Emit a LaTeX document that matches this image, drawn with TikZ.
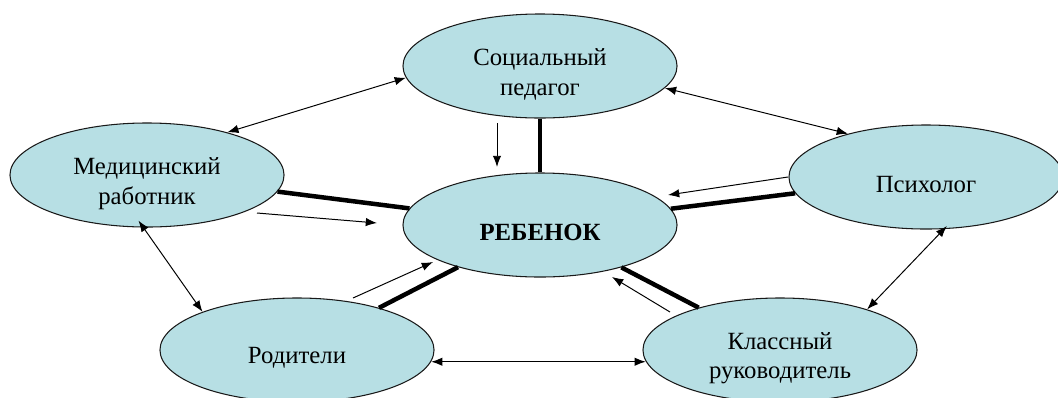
\documentclass[tikz,border=0pt]{standalone}
\usepackage{fontspec}
\setmainfont{Liberation Serif}
\usetikzlibrary{arrows.meta,shapes.geometric}
\definecolor{oval}{RGB}{183,223,228}
\tikzset{
  role/.style={ellipse, draw=black!90, line width=0.75pt, fill=oval,
    minimum width=6.85cm, minimum height=2.6cm, inner sep=0pt,
    align=center, font=\fontsize{17.6}{21.3}\selectfont,
    execute at begin node=\rule{0pt}{22pt}},
  tworole/.style={role, execute at begin node=\rule{0pt}{45pt}},
  bond/.style={line width=3.2pt},
  infl/.style={-{Latex[length=8pt,width=6pt]}, line width=0.7pt},
  link/.style={{Latex[length=8pt,width=6pt]}-{Latex[length=8pt,width=6pt]},
    line width=0.7pt},
}

\begin{document}
\begin{tikzpicture}[x=0.025cm,y=-0.025cm]
\useasboundingbox (0,0) rectangle (1058,397);
\node[tworole] (soc) at (540,66) {Социальный\\педагог};
\node[tworole] (med) at (147,175) {Медицинский\\работник};
\node[role] (psy) at (926,177) {Психолог};
\node[role, font=\bfseries\fontsize{17.6}{21.3}\selectfont]
  (child) at (540,225) {РЕБЕНОК};
\node[role] (par) at (297,350) {Родители};
\node[tworole] (cls) at (780,350) {Классный\\руководитель};
% links around
\draw[link] (soc.185) -- (med.28);
\draw[link] (soc.-10) -- (psy.151);
\draw[link, shorten <=-6pt] (med.-94) -- (par.158);
\draw[link, shorten <=-3pt] (psy.-71) -- (cls.25);
\draw[link, line width=1pt] (par.-5) -- (cls.185);
% bonds to the child
\draw[bond] (soc) -- (child);
\draw[bond] (med) -- (child);
\draw[bond] (psy) -- (child);
\draw[bond] (par) -- (child);
\draw[bond] (cls) -- (child);
\draw[infl]
  ([shift={(-43,57)}]soc.center) --
  ([shift={(-43,-58)}]child.center);
\draw[infl]
  ([shift={(110,38)}]med.center) --
  ([shift={(-163,-2)}]child.center);
\draw[infl]
  ([shift={(-138,0)}]psy.center) --
  ([shift={(128,-30)}]child.center);
\draw[infl]
  ([shift={(56,-52)}]par.center) --
  ([shift={(-107,37)}]child.center);
\draw[infl]
  ([shift={(-110,-38)}]cls.center) --
  ([shift={(72,52)}]child.center);
\end{tikzpicture}
\end{document}
